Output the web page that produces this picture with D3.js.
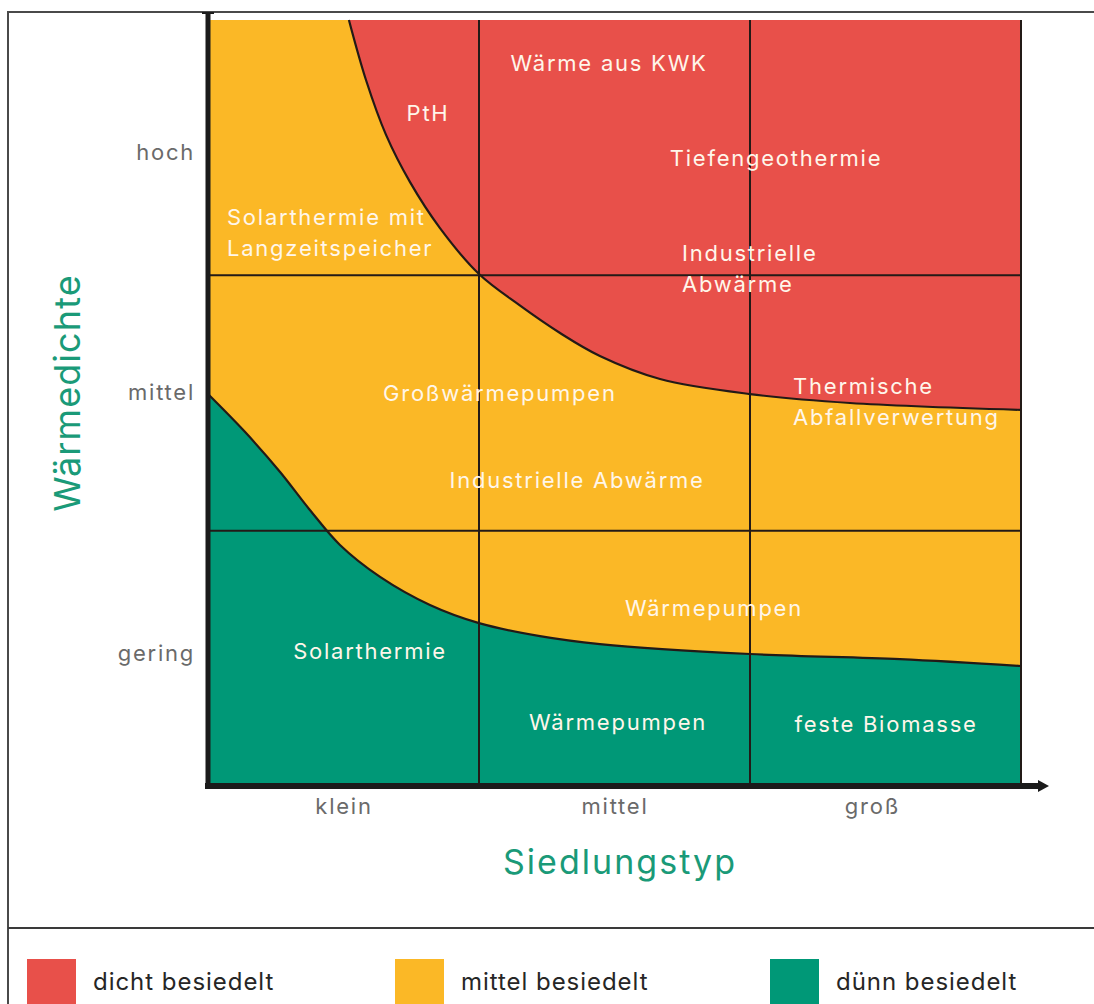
<!DOCTYPE html>
<html>
<head>
<meta charset="utf-8">
<script src="https://cdn.jsdelivr.net/npm/d3@7"></script>
<style>
  html, body { margin: 0; padding: 0; background: #fff; }
  svg { display: block; }
  text { font-family: Inter, "Noto Sans", sans-serif; }
</style>
</head>
<body>
<svg id="chart" width="1094" height="1004"></svg>
<script>
// ---------- data ----------
const xCategories = ["klein", "mittel", "groß"];
const xTickValues = [0.5, 1.5, 2.45];
const yCategories = ["gering", "mittel", "hoch"];
const yTickValues = [0.52, 1.54, 2.48];

// boundary between "dicht" (above) and "mittel" (below): [Siedlungstyp, Wärmedichte]
const upperBoundary = [
  [0.520, 3.000], [0.583, 2.765], [0.657, 2.550], [0.745, 2.366], [0.856, 2.185],
  [1.000, 2.005], [1.148, 1.884], [1.299, 1.774], [1.446, 1.684], [1.668, 1.594],
  [2.000, 1.535], [2.369, 1.500], [3.000, 1.473]
];
// boundary between "mittel" (above) and "dünn" (below)
const lowerBoundary = [
  [0.000, 1.535], [0.137, 1.386], [0.266, 1.230], [0.376, 1.081], [0.487, 0.944],
  [0.635, 0.819], [0.819, 0.709], [1.000, 0.638], [1.225, 0.587], [1.446, 0.556],
  [2.000, 0.517], [2.553, 0.497], [3.000, 0.470]
];

const regionLabels = [
  { lines: ["Wärme aus KWK"], x: 1.48, y: 2.832, anchor: "middle" },
  { lines: ["PtH"], x: 0.812, y: 2.636, anchor: "middle" },
  { lines: ["Tiefengeothermie"], x: 2.096, y: 2.460, anchor: "middle" },
  { lines: ["Solarthermie mit", "Langzeitspeicher"], x: 0.07, y: 2.230, anchor: "start" },
  { lines: ["Industrielle", "Abwärme"], x: 1.749, y: 2.087, anchor: "start" },
  { lines: ["Großwärmepumpen"], x: 1.077, y: 1.539, anchor: "middle" },
  { lines: ["Thermische", "Abfallverwertung"], x: 2.159, y: 1.567, anchor: "start" },
  { lines: ["Industrielle Abwärme"], x: 1.362, y: 1.199, anchor: "middle" },
  { lines: ["Wärmepumpen"], x: 1.867, y: 0.697, anchor: "middle" },
  { lines: ["Solarthermie"], x: 0.598, y: 0.529, anchor: "middle" },
  { lines: ["Wärmepumpen"], x: 1.513, y: 0.251, anchor: "middle" },
  { lines: ["feste Biomasse"], x: 2.502, y: 0.243, anchor: "middle" }
];

const legendLabels = ["dicht besiedelt", "mittel besiedelt", "dünn besiedelt"];
const legendColors = ["#E8504A", "#FBB826", "#009877"];
const xTitle = "Siedlungstyp";
const yTitle = "Wärmedichte";

// ---------- layout ----------
const svg = d3.select("#chart");
const L = 208, R = 1021, T = 20, B = 786;
const x = d3.scaleLinear().domain([0, 3]).range([L, R]);
const y = d3.scaleLinear().domain([0, 3]).range([B, T]);
const RED = legendColors[0], YEL = legendColors[1], GRN = legendColors[2];
const LINE = "#231a17";
const GREEN_TXT = "#1A9A78";
const curve = d3.curveCatmullRom.alpha(0.5);

// outer frame
svg.append("path")
  .attr("d", `M8,1010 V12 H1100`)
  .attr("fill", "none").attr("stroke", "#4a4a4a").attr("stroke-width", 2);
svg.append("line").attr("x1", 8).attr("x2", 1100).attr("y1", 928).attr("y2", 928)
  .attr("stroke", "#3a3a3a").attr("stroke-width", 2);

// base region (mittel)
svg.append("rect").attr("x", x(0)).attr("y", y(3))
  .attr("width", x(3) - x(0)).attr("height", y(0) - y(3)).attr("fill", YEL);

// dicht region
svg.append("path").datum(upperBoundary)
  .attr("d", d3.area().x(d => x(d[0])).y0(y(3)).y1(d => y(d[1])).curve(curve))
  .attr("fill", RED);

// dünn region
svg.append("path").datum(lowerBoundary)
  .attr("d", d3.area().x(d => x(d[0])).y0(y(0)).y1(d => y(d[1])).curve(curve))
  .attr("fill", GRN);

// grid lines
[1, 2].forEach(v => {
  svg.append("line").attr("x1", x(0)).attr("x2", x(3)).attr("y1", y(v)).attr("y2", y(v))
    .attr("stroke", LINE).attr("stroke-width", 2);
  svg.append("line").attr("x1", x(v)).attr("x2", x(v)).attr("y1", y(3)).attr("y2", y(0))
    .attr("stroke", LINE).attr("stroke-width", 2);
});
// right edge
svg.append("line").attr("x1", x(3)).attr("x2", x(3)).attr("y1", y(3)).attr("y2", y(0))
  .attr("stroke", LINE).attr("stroke-width", 2);

// boundaries
const bLine = d3.line().x(d => x(d[0])).y(d => y(d[1])).curve(curve);
[upperBoundary, lowerBoundary].forEach(b => {
  svg.append("path").datum(b).attr("d", bLine)
    .attr("fill", "none").attr("stroke", LINE).attr("stroke-width", 2.2);
});

// axes lines
svg.append("line").attr("x1", L).attr("x2", L).attr("y1", 13).attr("y2", B + 3)
  .attr("stroke", "#1b1b1b").attr("stroke-width", 5);
svg.append("line").attr("x1", L - 6).attr("x2", L + 6).attr("y1", 13).attr("y2", 13)
  .attr("stroke", "#1b1b1b").attr("stroke-width", 2);
svg.append("line").attr("x1", L - 3).attr("x2", 1040).attr("y1", B).attr("y2", B)
  .attr("stroke", "#1b1b1b").attr("stroke-width", 6);
svg.append("path").attr("d", `M1038,${B - 6} L1049,${B} L1038,${B + 6} Z`).attr("fill", "#1b1b1b");

// tick labels via d3 axes
const xAxis = d3.axisBottom(x).tickValues(xTickValues)
  .tickFormat((d, i) => xCategories[i]).tickSize(0).tickPadding(0);
const gx = svg.append("g").attr("transform", `translate(0,${B + 12})`).call(xAxis);
gx.select(".domain").remove();
gx.selectAll("text").attr("font-size", 22).attr("fill", "#6a6a6a")
  .attr("font-family", "Inter, sans-serif").style("letter-spacing", "0.08em")
  .attr("dy", "0.71em");

const yAxis = d3.axisLeft(y).tickValues(yTickValues)
  .tickFormat((d, i) => yCategories[i]).tickSize(0).tickPadding(0);
const gy = svg.append("g").attr("transform", `translate(${L - 13},0)`).call(yAxis);
gy.select(".domain").remove();
gy.selectAll("text").attr("font-size", 22).attr("fill", "#6a6a6a")
  .attr("font-family", "Inter, sans-serif").style("letter-spacing", "0.08em");

// axis titles
svg.append("text").attr("x", 620).attr("y", 862).attr("dy", "0.35em")
  .attr("text-anchor", "middle").attr("font-size", 34).attr("fill", GREEN_TXT)
  .style("letter-spacing", "0.06em").text(xTitle);
svg.append("text").attr("transform", `translate(67,393) rotate(-90)`).attr("dy", "0.35em")
  .attr("text-anchor", "middle").attr("font-size", 36).attr("fill", GREEN_TXT)
  .style("letter-spacing", "0.03em").text(yTitle);

// region labels
const lh = 31;
regionLabels.forEach(lb => {
  const t = svg.append("text").attr("text-anchor", lb.anchor)
    .attr("font-size", 22).attr("fill", "#FFF6EA").style("letter-spacing", "0.08em");
  lb.lines.forEach((ln, i) => {
    t.append("tspan").attr("x", x(lb.x)).attr("y", y(lb.y) + i * lh).attr("dy", "0.36em").text(ln);
  });
});

// legend
const legendX = [27, 395, 770];
legendLabels.forEach((lab, i) => {
  svg.append("rect").attr("x", legendX[i]).attr("y", 959).attr("width", 49).attr("height", 60)
    .attr("fill", legendColors[i]);
  svg.append("text").attr("x", legendX[i] + 66).attr("y", 981).attr("dy", "0.36em")
    .attr("font-size", 24).attr("fill", "#262626").style("letter-spacing", "0.04em").text(lab);
});
</script>
</body>
</html>
